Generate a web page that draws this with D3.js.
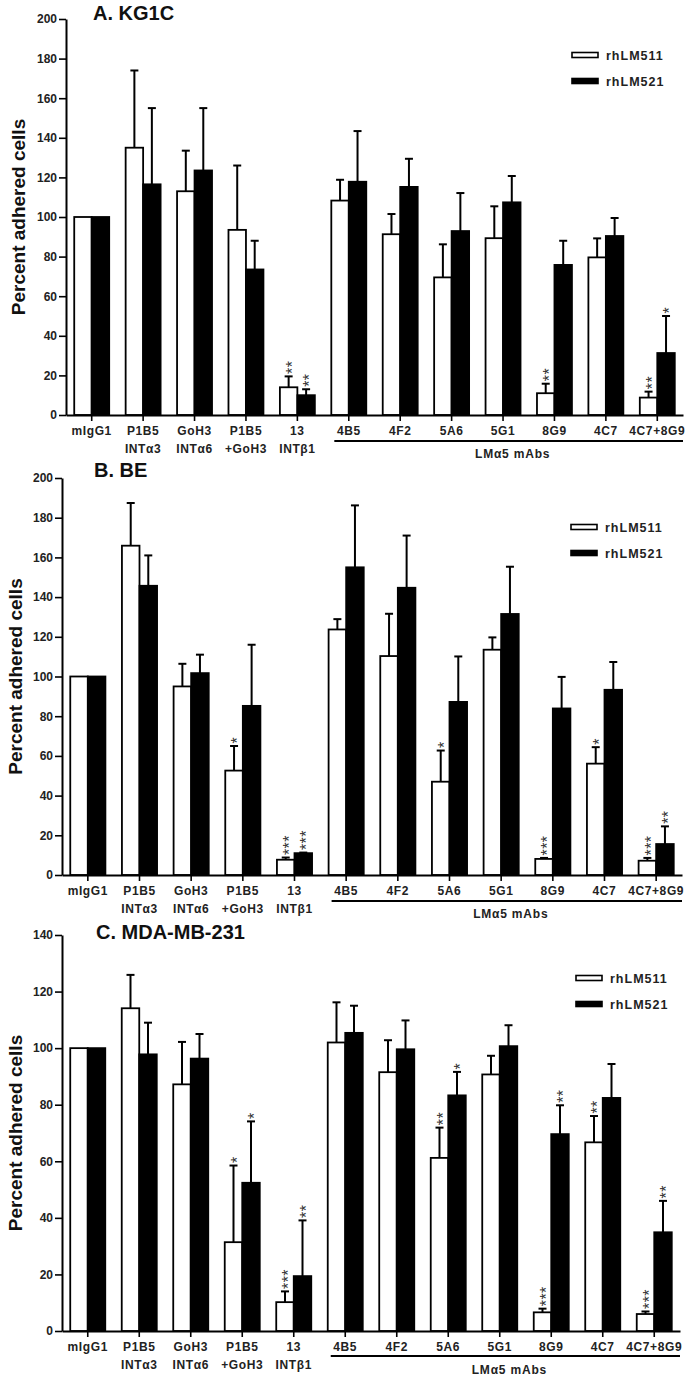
<!DOCTYPE html>
<html>
<head>
<meta charset="utf-8">
<script src="https://cdn.jsdelivr.net/npm/d3@7"></script>
<style>
  html, body { margin: 0; padding: 0; background: #fff; }
  svg { display: block; }
  text { font-family: "Liberation Sans", Arial, sans-serif; }
</style>
</head>
<body>
<svg id="chart" width="693" height="1379"></svg>
<script>
// ---------- DATA ----------
const categories = ["mIgG1", "P1B5", "GoH3", "P1B5", "13", "4B5", "4F2", "5A6", "5G1", "8G9", "4C7", "4C7+8G9"];
const categoryLine2 = ["", "INTα3", "INTα6", "+GoH3", "INTβ1", "", "", "", "", "", "", ""];
const seriesNames = ["rhLM511", "rhLM521"];
const groupLabel = "LMα5 mAbs";
const yTicksAB = [0, 20, 40, 60, 80, 100, 120, 140, 160, 180, 200];
const yTicksC = [0, 20, 40, 60, 80, 100, 120, 140];

// Panel A. KG1C
const lm511A    = [100, 135, 113, 93.5, 14, 108.3, 91.3, 69.5, 89.3, 11, 79.6, 8.8];
const lm511ErrA = [null, 174, 133.5, 126, 19.5, 118.8, 101.5, 86.2, 105.4, 15.8, 89.2, 11.8];
const lm521A    = [100, 116.5, 123.5, 73.5, 10, 117.8, 115.2, 92.9, 107.4, 75.8, 90.4, 31.3];
const lm521ErrA = [null, 155, 155, 88, 13, 143.4, 129.4, 112.1, 120.7, 88, 99.5, 50];
const stars511A = ["", "", "", "", "**", "", "", "", "", "**", "", "**"];
const stars521A = ["", "", "", "", "**", "", "", "", "", "", "", "*"];

// Panel B. BE
const lm511B    = [100, 165.9, 95, 52.6, 7.7, 123.7, 110.3, 47, 113.5, 8.1, 56.1, 7.2];
const lm511ErrB = [null, 187.4, 106.4, 65, 8.8, 128.9, 131.6, 62.7, 119.7, 8.6, 64.4, 8.6];
const lm521B    = [100, 145.7, 101.7, 85.2, 11, 155, 144.7, 87.2, 131.5, 83.9, 93.3, 15.6];
const lm521ErrB = [null, 161, 111, 116, 11.3, 186.2, 171, 110.1, 155.3, 99.8, 107.3, 24.5];
const stars511B = ["", "", "", "*", "***", "", "", "*", "", "***", "*", "***"];
const stars521B = ["", "", "", "", "***", "", "", "", "", "", "", "**"];

// Panel C. MDA-MB-231
const lm511C    = [100, 114.1, 87.2, 31.4, 10.2, 102, 91.5, 61.2, 90.7, 6.6, 66.7, 6];
const lm511ErrC = [null, 125.9, 102.2, 58.5, 14, 116.2, 102.8, 71.9, 97.3, 7.9, 76, 6.9];
const lm521C    = [100, 97.8, 96.3, 52.4, 19.4, 105.4, 99.6, 83.3, 100.7, 69.6, 82.4, 34.9];
const lm521ErrC = [null, 109, 105, 74.1, 39.1, 115, 109.8, 91.6, 108.1, 79.8, 94.4, 46];
const stars511C = ["", "", "", "*", "***", "", "", "**", "", "***", "**", "***"];
const stars521C = ["", "", "", "*", "**", "", "", "*", "", "**", "", "**"];

// ---------- LAYOUT ----------
const panels = [
  { title: "A. KG1C", titleX: 93, titleY: 20, x0: 66, x1: 683, yTop: 19, yBot: 415, yMax: 200, ticks: yTicksAB,
    s1: lm511A, e1: lm511ErrA, s2: lm521A, e2: lm521ErrA, st1: stars511A, st2: stars521A,
    legX: 572, legY: 55, ylabX: 18, groupLineY: 441, groupTextY: 458 },
  { title: "B. BE", titleX: 94, titleY: 477, x0: 62, x1: 682, yTop: 478, yBot: 875, yMax: 200, ticks: yTicksAB,
    s1: lm511B, e1: lm511ErrB, s2: lm521B, e2: lm521ErrB, st1: stars511B, st2: stars521B,
    legX: 571, legY: 527, ylabX: 15, groupLineY: 901, groupTextY: 918 },
  { title: "C. MDA-MB-231", titleX: 96, titleY: 939, x0: 62, x1: 680, yTop: 935, yBot: 1331, yMax: 140, ticks: yTicksC,
    s1: lm511C, e1: lm511ErrC, s2: lm521C, e2: lm521ErrC, st1: stars511C, st2: stars521C,
    legX: 576, legY: 978, ylabX: 15, groupLineY: 1356, groupTextY: 1374 }
];

const svg = d3.select("#chart");

panels.forEach(p => {
  const g = svg.append("g");
  const x = d3.scaleBand().domain(d3.range(categories.length)).range([p.x0, p.x1]).padding(0);
  const y = d3.scaleLinear().domain([0, p.yMax]).range([p.yBot, p.yTop]);
  const bw = x.bandwidth() * 0.34;
  const cx = i => x(i) + x.bandwidth() / 2;

  const series = [
    { vals: p.s1, errs: p.e1, stars: p.st1, fill: "#fff", off: -bw },
    { vals: p.s2, errs: p.e2, stars: p.st2, fill: "#000", off: 0 }
  ];
  series.forEach(s => {
    // error bars (upper only)
    const eg = g.append("g");
    s.vals.forEach((v, i) => {
      const e = s.errs[i];
      if (e == null) return;
      const mx = cx(i) + s.off + bw / 2;
      eg.append("line").attr("x1", mx).attr("x2", mx).attr("y1", y(v)).attr("y2", y(e))
        .attr("stroke", "#000").attr("stroke-width", 2);
      eg.append("line").attr("x1", mx - 4).attr("x2", mx + 4).attr("y1", y(e)).attr("y2", y(e))
        .attr("stroke", "#000").attr("stroke-width", 2);
    });
    g.append("g").selectAll("rect").data(s.vals).join("rect")
      .attr("x", (d, i) => cx(i) + s.off)
      .attr("y", d => y(d))
      .attr("width", bw)
      .attr("height", d => p.yBot - y(d))
      .attr("fill", s.fill)
      .attr("stroke", "#000")
      .attr("stroke-width", 1.8);
    // significance stars, stacked vertically (rotated text)
    s.stars.forEach((st, i) => {
      if (!st) return;
      const mx = cx(i) + s.off + bw / 2;
      const top = y(s.errs[i] != null ? s.errs[i] : s.vals[i]);
      g.append("text")
        .attr("transform", `translate(${mx},${top - 2.5}) rotate(-90)`)
        .attr("dy", "0.57em")
        .attr("font-size", 16).attr("letter-spacing", 0.4).attr("fill", "#333")
        .text(st);
    });
  });

  // y axis
  const yAxis = g.append("g").attr("transform", `translate(${p.x0},0)`)
    .call(d3.axisLeft(y).tickValues(p.ticks).tickSize(7).tickPadding(2).tickSizeOuter(0));
  yAxis.select(".domain").attr("stroke-width", 2);
  yAxis.selectAll(".tick line").attr("stroke-width", 1.6);
  yAxis.selectAll("text").attr("font-size", 12).attr("font-weight", "bold").attr("fill", "#222")
    .style("font-family", "'Liberation Sans', Arial, sans-serif");

  // x axis
  const xAxis = g.append("g").attr("transform", `translate(0,${p.yBot})`)
    .call(d3.axisBottom(x).tickSize(6).tickSizeOuter(0).tickFormat(() => ""));
  xAxis.select(".domain").attr("stroke-width", 2);
  xAxis.selectAll(".tick line").attr("stroke-width", 1.6);
  categories.forEach((c, i) => {
    g.append("text").attr("x", cx(i)).attr("y", p.yBot + 20).attr("text-anchor", "middle")
      .attr("font-size", 12).attr("font-weight", "bold").attr("letter-spacing", 0.6).attr("fill", "#222")
      .text(c);
    if (categoryLine2[i]) {
      g.append("text").attr("x", cx(i)).attr("y", p.yBot + 38).attr("text-anchor", "middle")
        .attr("font-size", 12).attr("font-weight", "bold").attr("letter-spacing", 0.6).attr("fill", "#222")
        .text(categoryLine2[i]);
    }
  });

  // group line LMα5 mAbs
  const gStart = cx(5) - bw + 3;
  g.append("line").attr("x1", gStart).attr("x2", p.x1).attr("y1", p.groupLineY).attr("y2", p.groupLineY)
    .attr("stroke", "#000").attr("stroke-width", 2);
  g.append("text").attr("x", (gStart + p.x1) / 2 + 4).attr("y", p.groupTextY).attr("text-anchor", "middle")
    .attr("font-size", 12).attr("font-weight", "bold").attr("letter-spacing", 0.8).attr("fill", "#222")
    .text(groupLabel);

  // title
  g.append("text").attr("x", p.titleX).attr("y", p.titleY).attr("font-size", 20).attr("font-weight", "bold")
    .attr("fill", "#111").text(p.title);

  // y label
  g.append("text").attr("transform", `translate(${p.ylabX + 7},${(p.yTop + p.yBot) / 2}) rotate(-90)`)
    .attr("text-anchor", "middle").attr("font-size", 19).attr("font-weight", "bold").attr("fill", "#111")
    .text("Percent adhered cells");

  // legend
  seriesNames.forEach((n, k) => {
    const ly = p.legY + k * 26;
    g.append("rect").attr("x", p.legX).attr("y", ly - 2.5).attr("width", 26).attr("height", 5)
      .attr("fill", k === 0 ? "#fff" : "#000").attr("stroke", "#000").attr("stroke-width", 1.6);
    g.append("text").attr("x", p.legX + 34).attr("y", ly + 4.5).attr("font-size", 12.5)
      .attr("font-weight", "bold").attr("letter-spacing", 1).attr("fill", "#222").text(n);
  });
});
</script>
</body>
</html>
